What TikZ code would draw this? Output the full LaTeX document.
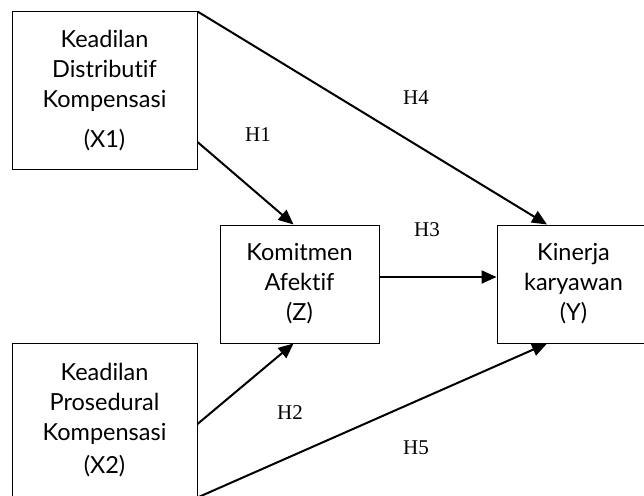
\documentclass[tikz,border=0pt]{standalone}
\usepackage{fontspec}
\setmainfont{Liberation Serif}
\newfontfamily\boxfont[Ligatures=NoCommon]{Lato}
\usetikzlibrary{arrows.meta}

\begin{document}
\begin{tikzpicture}[x=1pt,y=-1pt,
        var/.style={draw, line width=1pt, align=center, inner sep=0pt,
            font=\boxfont\fontsize{23.5}{30}\selectfont},
        path/.style={line width=2pt, -{Triangle[length=15pt,width=13pt]}},
        hyp/.style={font=\fontsize{21}{24}\selectfont}]
    \useasboundingbox (0,0) rectangle (644,495);

    % variables
    \node[var, minimum width=185, minimum height=157] (x1) at (104.5,90.5)
        {Keadilan\\Distributif\\Kompensasi\\[10pt](X1)};
    \node[var, minimum width=185, minimum height=154] (x2) at (104.5,420)
        {Keadilan\\Prosedural\\Kompensasi\\[3pt](X2)};
    \node[var, minimum width=159, minimum height=118] (z) at (299.5,284)
        {Komitmen\\Afektif\\(Z)};
    \node[var, minimum width=153, minimum height=118] (y) at (573.5,284)
        {Kinerja\\karyawan\\(Y)};

    % hypotheses
    \draw[path] ([yshift=-51.5pt]x1.east) -- ([xshift=-6pt]z.north);
    \draw[path] (x1.north east) -- ([xshift=-26.5pt]y.north);
    \draw[path] ([yshift=7pt]z.east) -- ([yshift=7pt]y.west);
    \draw[path] ([yshift=-4pt]x2.east) -- ([xshift=-6pt]z.south);
    \draw[path] (x2.south east) -- ([xshift=-26.5pt]y.south);

    \node[hyp] (h1) at (258,135) {H1};
    \node[hyp] (h2) at (290,413) {H2};
    \node[hyp] (h3) at (427,230) {H3};
    \node[hyp] (h4) at (416,98) {H4};
    \node[hyp] (h5) at (416,448) {H5};
\end{tikzpicture}
\end{document}
